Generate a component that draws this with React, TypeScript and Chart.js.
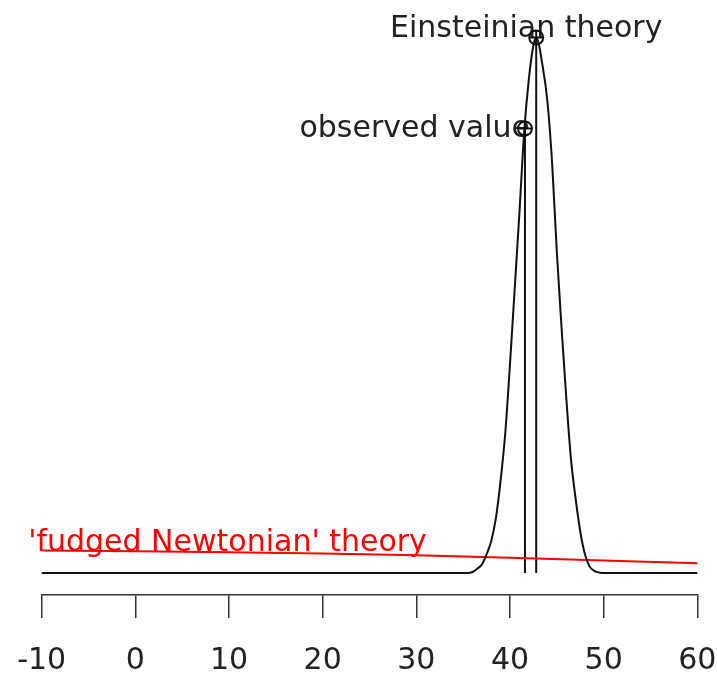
import React, { useEffect, useRef } from "react";
import { Chart, registerables } from "chart.js";

Chart.register(...registerables);

// Black curve: distribution around the Einsteinian prediction (height relative to its peak)
const curveX = [-10, 30, 35.5, 36, 36.5, 37, 37.5, 38, 38.5, 39, 39.5, 40, 40.5, 41, 41.5, 42, 42.5, 42.8, 43.5, 44, 44.5, 45, 45.5, 46, 46.5, 47, 47.5, 48, 48.5, 49, 49.5, 50, 55, 60];
const curveY = [0, 0, 0, 0.002, 0.008, 0.016, 0.035, 0.06, 0.103, 0.173, 0.262, 0.39, 0.53, 0.67, 0.82, 0.92, 0.985, 1.0, 0.945, 0.88, 0.765, 0.6, 0.46, 0.33, 0.215, 0.14, 0.078, 0.035, 0.012, 0.004, 0.001, 0, 0, 0];

// Red line: 'fudged Newtonian' theory
const fudgedX = [-10, 0, 10, 20, 30, 40, 50, 60];
const fudgedY = [0.042, 0.0405, 0.039, 0.0366, 0.0332, 0.0286, 0.0235, 0.0183];

// Marked points
const observedValue = 41.6;
const observedHeight = 0.83;
const einsteinValue = 42.8;
const einsteinHeight = 1.0;

const xTicks = [-10, 0, 10, 20, 30, 40, 50, 60];

const einsteinLabel = "Einsteinian theory";
const observedLabel = "observed value";
const fudgedLabel = "'fudged Newtonian' theory";
const fudgedLabelAt = 10;

const FONT = '"DejaVu Sans", "Liberation Sans", sans-serif';

export default function App() {
  const canvasRef = useRef<HTMLCanvasElement | null>(null);

  useEffect(() => {
    const canvas = canvasRef.current;
    if (!canvas) return;

    const textPlugin = {
      id: "textLabels",
      beforeDatasetsDraw(chart: any) {
        const { ctx, scales } = chart;
        const x = scales.x;
        const y = scales.y;
        ctx.save();
        ctx.font = `30px ${FONT}`;
        ctx.textBaseline = "alphabetic";

        ctx.fillStyle = "#222";
        ctx.textAlign = "center";
        ctx.fillText(einsteinLabel, x.getPixelForValue(einsteinValue) - 10, y.getPixelForValue(einsteinHeight));

        ctx.textAlign = "right";
        ctx.fillText(observedLabel, x.getPixelForValue(observedValue) + 5, y.getPixelForValue(observedHeight) + 8);

        const idx = fudgedX.indexOf(fudgedLabelAt);
        ctx.fillStyle = "#ff0000";
        ctx.textAlign = "center";
        ctx.fillText(fudgedLabel, x.getPixelForValue(fudgedLabelAt) - 1.5, y.getPixelForValue(fudgedY[idx]) - 1);
        ctx.restore();
      },
    };

    const lineCommon = { showLine: true, pointRadius: 0, pointHoverRadius: 0, pointHitRadius: 0, clip: false };

    const chart = new Chart(canvas, {
      type: "scatter",
      data: {
        datasets: [
          {
            ...lineCommon,
            data: curveX.map((v, i) => ({ x: v, y: curveY[i] })),
            borderColor: "#111",
            borderWidth: 2,
            cubicInterpolationMode: "monotone",
          },
          {
            ...lineCommon,
            data: fudgedX.map((v, i) => ({ x: v, y: fudgedY[i] })),
            borderColor: "#ff0000",
            borderWidth: 2,
          },
          {
            ...lineCommon,
            data: [
              { x: observedValue, y: 0 },
              { x: observedValue, y: observedHeight },
            ],
            borderColor: "#111",
            borderWidth: 2,
          },
          {
            ...lineCommon,
            data: [
              { x: einsteinValue, y: 0 },
              { x: einsteinValue, y: einsteinHeight },
            ],
            borderColor: "#111",
            borderWidth: 2,
          },
          {
            data: [
              { x: observedValue, y: observedHeight },
              { x: einsteinValue, y: einsteinHeight },
            ],
            showLine: false,
            clip: false,
            pointStyle: "circle",
            pointRadius: 7,
            pointHoverRadius: 7,
            pointHitRadius: 0,
            pointBorderWidth: 2,
            pointBorderColor: "#111",
            pointBackgroundColor: "rgba(0,0,0,0)",
          },
          {
            data: [
              { x: observedValue, y: observedHeight },
              { x: einsteinValue, y: einsteinHeight },
            ],
            showLine: false,
            clip: false,
            pointStyle: "cross",
            pointRadius: 7,
            pointHoverRadius: 7,
            pointHitRadius: 0,
            pointBorderWidth: 2,
            pointBorderColor: "#111",
          },
        ],
      },
      options: {
        animation: false,
        responsive: false,
        devicePixelRatio: 1,
        events: [],
        layout: { autoPadding: false, padding: { left: 41.7, right: 19.7, top: 15, bottom: 0 } },
        plugins: {
          legend: { display: false },
          tooltip: { enabled: false },
        },
        scales: {
          x: {
            type: "linear",
            min: -10,
            max: 60,
            afterBuildTicks: (scale: any) => {
              scale.ticks = xTicks.map((v) => ({ value: v }));
            },
            afterFit: (scale: any) => {
              scale.height = 82;
              scale.paddingLeft = 0;
              scale.paddingRight = 0;
              scale.paddingTop = 0;
              scale.paddingBottom = 0;
            },
            grid: {
              display: true,
              drawOnChartArea: false,
              drawTicks: true,
              tickLength: 23,
              color: "#333",
              lineWidth: 1.5,
            },
            border: { display: true, color: "#333", width: 1.5 },
            ticks: {
              autoSkip: false,
              maxRotation: 0,
              padding: 28,
              color: "#222",
              font: { family: FONT, size: 30, lineHeight: 1 },
            },
          },
          y: {
            type: "linear",
            display: false,
            min: -0.041,
            max: 1.042,
          },
        },
      },
      plugins: [textPlugin],
    } as any);

    return () => chart.destroy();
  }, []);

  return (
    <div style={{ position: "fixed", left: 0, top: 0, width: 717, height: 677, background: "#fff" }}>
      <canvas ref={canvasRef} width={717} height={677} style={{ width: 717, height: 677, display: "block" }} />
    </div>
  );
}
